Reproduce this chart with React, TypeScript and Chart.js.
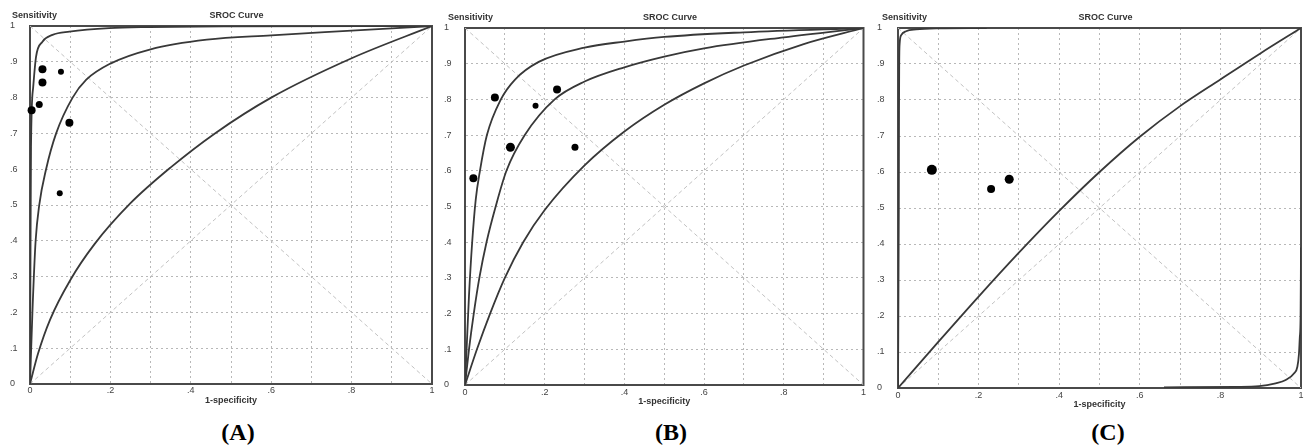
import React, { useEffect, useRef } from 'react';
import { Chart, registerables } from 'chart.js';

Chart.register(...registerables);

// ---------- shared axis labels ----------
const xTickLabels = ['0', '.2', '.4', '.6', '.8', '1'];
const yTickLabels = ['0', '.1', '.2', '.3', '.4', '.5', '.6', '.7', '.8', '.9', '1'];
const panelTitle = 'SROC Curve';
const yAxisName = 'Sensitivity';
const xAxisName = '1-specificity';

// reference diagonals
const diagX = [0, 1];
const diagY = [0, 1];
const antiDiagX = [0, 1];
const antiDiagY = [1, 0];

// ---------- Panel A ----------
const aStudySpec = [0.004, 0.031, 0.031, 0.023, 0.077, 0.098, 0.074];
const aStudySens = [0.765, 0.879, 0.842, 0.781, 0.872, 0.73, 0.533];
const aUpperX = [0, 0.001, 0.0025, 0.008, 0.015, 0.031, 0.056, 0.098, 0.197, 0.297, 0.5, 1];
const aUpperY = [0, 0.3, 0.663, 0.83, 0.914, 0.956, 0.975, 0.984, 0.994, 0.997, 0.999, 1];
const aMidX = [0, 0.006, 0.014, 0.023, 0.04, 0.065, 0.106, 0.14, 0.2, 0.3, 0.44, 0.6, 0.8, 1];
const aMidY = [0, 0.2, 0.4, 0.5, 0.6, 0.7, 0.8, 0.85, 0.895, 0.935, 0.962, 0.974, 0.987, 1];
const aLowX = [0, 0.02, 0.05, 0.1, 0.16, 0.25, 0.35, 0.46, 0.6, 0.8, 1];
const aLowY = [0, 0.085, 0.18, 0.29, 0.39, 0.505, 0.605, 0.7, 0.8, 0.91, 1];

// ---------- Panel B ----------
const bStudySpec = [0.021, 0.075, 0.114, 0.177, 0.231, 0.276];
const bStudySens = [0.579, 0.805, 0.666, 0.782, 0.828, 0.666];
const bUpperX = [0, 0.004, 0.01, 0.018, 0.027, 0.0375, 0.055, 0.09, 0.125, 0.185, 0.3, 0.4, 0.5, 0.7, 1];
const bUpperY = [0, 0.1, 0.25, 0.4, 0.52, 0.6, 0.7, 0.8, 0.855, 0.905, 0.945, 0.962, 0.975, 0.988, 1];
const bMidX = [0, 0.01, 0.022, 0.036, 0.054, 0.077, 0.104, 0.15, 0.225, 0.3, 0.4, 0.5, 0.6, 0.8, 1];
const bMidY = [0, 0.1, 0.2, 0.3, 0.4, 0.5, 0.6, 0.7, 0.8, 0.85, 0.89, 0.92, 0.943, 0.974, 1];
const bLowX = [0, 0.03, 0.063, 0.1, 0.146, 0.2, 0.3, 0.4, 0.5, 0.6, 0.7, 0.85, 1];
const bLowY = [0, 0.1, 0.2, 0.3, 0.4, 0.49, 0.615, 0.71, 0.785, 0.845, 0.895, 0.955, 1];

// ---------- Panel C ----------
const cStudySpec = [0.084, 0.231, 0.276];
const cStudySens = [0.606, 0.553, 0.58];
const cUpperX = [0, 0.002, 0.0025, 0.003, 0.004, 0.008, 0.02, 0.045, 0.1, 0.22];
const cUpperY = [0, 0.5, 0.77, 0.9, 0.955, 0.98, 0.991, 0.996, 0.999, 1];
const cMidX = [0, 0.1, 0.2, 0.3, 0.4, 0.5, 0.6, 0.7, 0.8, 0.9, 1];
const cMidY = [0, 0.128, 0.254, 0.376, 0.492, 0.6, 0.698, 0.783, 0.857, 0.93, 1];
const cLowX = [0.66, 0.84, 0.896, 0.937, 0.962, 0.983, 0.991, 0.995, 0.997, 0.999, 1];
const cLowY = [0.002, 0.003, 0.005, 0.013, 0.022, 0.041, 0.059, 0.096, 0.14, 0.2, 0.39];

// ---------- styles (point sizes) ----------
const aRadii = [4, 4, 4, 3.5, 3, 4, 3];
const bRadii = [4, 4, 4.5, 3, 4, 3.5];
const cRadii = [5, 4, 4.5];

const FONT = 'Liberation Sans';

const pts = (xs: number[], ys: number[]) => xs.map((x, i) => ({ x, y: ys[i] }));

const framePlugin = {
  id: 'frame',
  beforeDatasetsDraw(chart: any) {
    const { ctx, chartArea } = chart;
    const { left, top, right, bottom } = chartArea;
    ctx.save();
    ctx.strokeStyle = '#4a4a4a';
    ctx.lineWidth = 2;
    ctx.strokeRect(left, top, right - left, bottom - top);
    ctx.restore();
  },
};

type PanelDef = {
  key: string;
  left: number;
  width: number;
  height: number;
  pad: { left: number; top: number; right: number };
  yw: number;
  xh: number;
  tickPad: number;
  titlePad: number;
  curves: [number[], number[]][];
  studyX: number[];
  studyY: number[];
  radii: number[];
};

const panels: PanelDef[] = [
  {
    key: 'A', left: 0, width: 436, height: 408,
    pad: { left: 10, top: 26, right: 3 }, yw: 20, xh: 24, tickPad: 1, titlePad: 2,
    curves: [[aUpperX, aUpperY], [aMidX, aMidY], [aLowX, aLowY]],
    studyX: aStudySpec, studyY: aStudySens, radii: aRadii,
  },
  {
    key: 'B', left: 436, width: 432, height: 409,
    pad: { left: 8, top: 28, right: 3 }, yw: 21, xh: 24, tickPad: 2, titlePad: 2,
    curves: [[bUpperX, bUpperY], [bMidX, bMidY], [bLowX, bLowY]],
    studyX: bStudySpec, studyY: bStudySens, radii: bRadii,
  },
  {
    key: 'C', left: 868, width: 438, height: 412,
    pad: { left: 9, top: 28, right: 4 }, yw: 21, xh: 24, tickPad: 2, titlePad: 2,
    curves: [[cUpperX, cUpperY], [cMidX, cMidY], [cLowX, cLowY]],
    studyX: cStudySpec, studyY: cStudySens, radii: cRadii,
  },
];

function Panel({ def }: { def: PanelDef }) {
  const ref = useRef<HTMLCanvasElement>(null);
  useEffect(() => {
    if (!ref.current) return;
    const datasets: any[] = [
      {
        data: pts(def.studyX, def.studyY),
        showLine: false,
        pointRadius: def.radii,
        pointHoverRadius: def.radii,
        backgroundColor: '#000',
        borderWidth: 0,
        clip: false,
      },
      ...def.curves.map(([xs, ys]) => ({
        data: pts(xs, ys),
        showLine: true,
        pointRadius: 0,
        borderColor: '#383838',
        borderWidth: 1.8,
        cubicInterpolationMode: 'monotone',
        fill: false,
      })),
      {
        data: pts(diagX, diagY),
        showLine: true,
        pointRadius: 0,
        borderColor: '#c2c2c2',
        borderWidth: 1,
        borderDash: [4, 3],
      },
      {
        data: pts(antiDiagX, antiDiagY),
        showLine: true,
        pointRadius: 0,
        borderColor: '#c2c2c2',
        borderWidth: 1,
        borderDash: [4, 3],
      },
    ];
    const chart = new Chart(ref.current, {
      type: 'scatter',
      data: { datasets },
      options: {
        responsive: false,
        animation: false,
        devicePixelRatio: 1,
        events: [],
        layout: { padding: { left: def.pad.left, top: def.pad.top, right: def.pad.right, bottom: 0 } },
        plugins: {
          legend: { display: false },
          tooltip: { enabled: false },
          title: { display: false },
        },
        scales: {
          x: {
            type: 'linear',
            min: 0,
            max: 1,
            afterFit: (s: any) => { s.height = def.xh; },
            ticks: {
              stepSize: 0.1,
              autoSkip: false,
              maxRotation: 0,
              padding: def.tickPad,
              font: { family: FONT, size: 9 },
              color: '#444',
              callback: (_v: any, i: number) => (i % 2 === 0 ? xTickLabels[i / 2] : ''),
            },
            grid: { color: '#b8b8b8', lineWidth: 1, drawTicks: false },
            border: { display: true, color: '#4a4a4a', width: 2, dash: [2, 3] },
            title: {
              display: true,
              text: xAxisName,
              font: { family: FONT, size: 9, weight: 'bold' },
              color: '#333',
              padding: { top: 0, bottom: def.titlePad },
            },
          },
          y: {
            type: 'linear',
            min: 0,
            max: 1,
            afterFit: (s: any) => { s.width = def.yw; },
            ticks: {
              stepSize: 0.1,
              autoSkip: false,
              padding: 0,
              crossAlign: 'far',
              font: { family: FONT, size: 9 },
              color: '#444',
              callback: (_v: any, i: number) => yTickLabels[i],
            },
            grid: { color: '#b8b8b8', lineWidth: 1, drawTicks: false },
            border: { display: true, color: '#4a4a4a', width: 2, dash: [2, 3] },
          },
        },
      } as any,
      plugins: [framePlugin],
    });
    return () => chart.destroy();
  }, [def]);
  return (
    <canvas
      ref={ref}
      width={def.width}
      height={def.height}
      style={{ position: 'absolute', left: def.left, top: 0, width: def.width, height: def.height }}
    />
  );
}

const smallText: React.CSSProperties = {
  position: 'absolute',
  font: `bold 9px "${FONT}"`,
  color: '#333',
  lineHeight: '10px',
  whiteSpace: 'nowrap',
};

const bigLabel: React.CSSProperties = {
  position: 'absolute',
  font: 'bold 24px "Liberation Serif"',
  color: '#000',
  lineHeight: '24px',
  whiteSpace: 'nowrap',
  transform: 'translateX(-50%)',
};

const headerPos = [
  { sensLeft: 12, top: 10, titleCx: 236.5, labelCx: 238 },
  { sensLeft: 448, top: 12, titleCx: 670, labelCx: 671 },
  { sensLeft: 882, top: 12, titleCx: 1105.5, labelCx: 1108 },
];

export default function App() {
  return (
    <div style={{ position: 'absolute', left: 0, top: 0, width: 1306, height: 446, background: '#fff', overflow: 'hidden' }}>
      {panels.map((p, i) => (
        <React.Fragment key={p.key}>
          <Panel def={p} />
          <div style={{ ...smallText, left: headerPos[i].sensLeft, top: headerPos[i].top }}>{yAxisName}</div>
          <div style={{ ...smallText, left: headerPos[i].titleCx, top: headerPos[i].top, transform: 'translateX(-50%)' }}>{panelTitle}</div>
          <div style={{ ...bigLabel, left: headerPos[i].labelCx, top: 420 }}>({p.key})</div>
        </React.Fragment>
      ))}
    </div>
  );
}
